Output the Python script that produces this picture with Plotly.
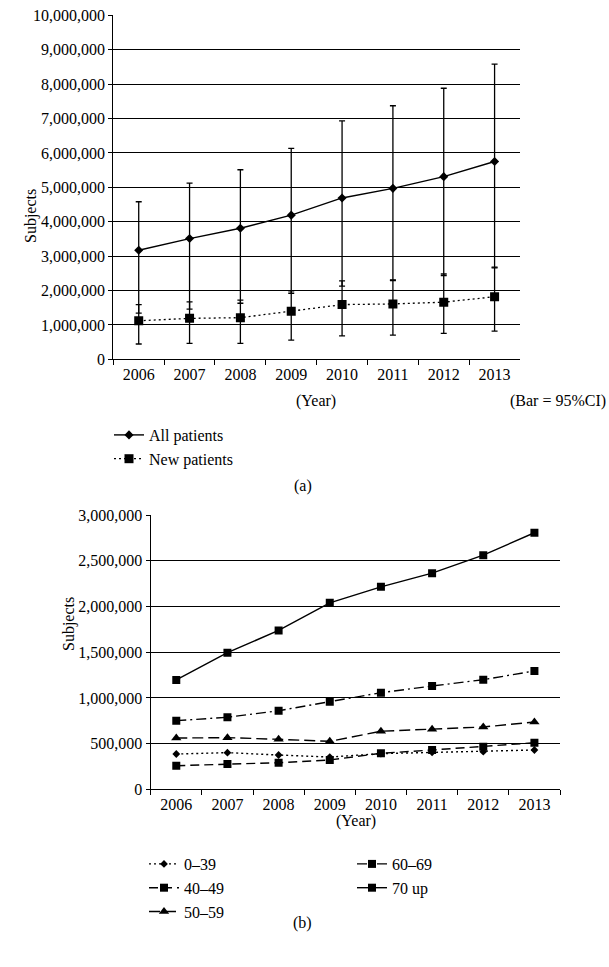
import plotly.graph_objects as go

W, H = 609, 967

years = ['2006', '2007', '2008', '2009', '2010', '2011', '2012', '2013']

# (a) all / new patients with 95% CI
all_patients = [3170000, 3510000, 3810000, 4190000, 4690000, 4970000, 5310000, 5750000]
all_upper = [4580000, 5120000, 5510000, 6130000, 6930000, 7370000, 7880000, 8580000]
all_lower = [1340000, 1460000, 1630000, 1920000, 2130000, 2290000, 2430000, 2660000]
new_patients = [1120000, 1190000, 1210000, 1400000, 1590000, 1610000, 1660000, 1820000]
new_upper = [1590000, 1670000, 1720000, 1990000, 2280000, 2310000, 2480000, 2680000]
new_lower = [445000, 465000, 465000, 560000, 680000, 700000, 755000, 820000]

# (b) by age group
age_0_39 = [386000, 401000, 375000, 353000, 390000, 405000, 412000, 430000]
age_40_49 = [258000, 277000, 291000, 321000, 394000, 430000, 466000, 510000]
age_50_59 = [561000, 565000, 547000, 525000, 635000, 656000, 682000, 736000]
age_60_69 = [751000, 788000, 860000, 959000, 1057000, 1130000, 1199000, 1295000]
age_70_up = [1196000, 1495000, 1738000, 2040000, 2215000, 2365000, 2562000, 2807000]

top_ticks = list(range(0, 10000001, 1000000))
bottom_ticks = list(range(0, 3000001, 500000))

FONT = 'Liberation Serif'


def px(x):
    return x / W


def py(y):
    return 1 - y / H


def diff(a, b):
    return [i - j for i, j in zip(a, b)]


fig = go.Figure()

# top chart
fig.add_trace(go.Scatter(
    x=years, y=all_patients, name='All patients', mode='lines+markers',
    line=dict(color='black', width=1.4),
    marker=dict(symbol='diamond', size=7, color='black'),
    error_y=dict(type='data', symmetric=False, array=diff(all_upper, all_patients),
                 arrayminus=diff(all_patients, all_lower), color='black', thickness=1.3, width=3),
    xaxis='x', yaxis='y', legend='legend'))
fig.add_trace(go.Scatter(
    x=years, y=new_patients, name='New patients', mode='lines+markers',
    line=dict(color='black', width=1.3, dash='2px,3px'),
    marker=dict(symbol='square', size=9, color='black'),
    error_y=dict(type='data', symmetric=False, array=diff(new_upper, new_patients),
                 arrayminus=diff(new_patients, new_lower), color='black', thickness=1.3, width=3),
    xaxis='x', yaxis='y', legend='legend'))

# bottom chart
series = [
    ('0\u201339', age_0_39, '2px,3px', 'diamond', 6, 'legend2'),
    ('40\u201349', age_40_49, '9px,5px', 'square', 8, 'legend2'),
    ('50\u201359', age_50_59, '11px,5px', 'triangle-up', 9, 'legend2'),
    ('60\u201369', age_60_69, '10px,4px,2px,4px', 'square', 8, 'legend3'),
    ('70 up', age_70_up, 'solid', 'square', 8, 'legend3'),
]
for name, vals, dash, sym, size, leg in series:
    fig.add_trace(go.Scatter(
        x=years, y=vals, name=name, mode='lines+markers',
        line=dict(color='black', width=1.4, dash=dash),
        marker=dict(symbol=sym, size=size, color='black'),
        xaxis='x2', yaxis='y2', legend=leg))

xaxis_style = dict(type='category', range=[-0.5, 7.5], showline=True, linecolor='black',
                   linewidth=1.3, ticks='outside', tickson='boundaries', ticklen=5,
                   tickcolor='black', showgrid=False, zeroline=False, automargin=False,
                   tickfont=dict(family=FONT, size=16, color='black'))
yaxis_style = dict(showline=True, linecolor='black', linewidth=1.3, ticks='outside',
                   ticklen=4, tickcolor='black', showgrid=True, gridcolor='black',
                   gridwidth=1.3, zeroline=False, tickformat=',d', automargin=False,
                   tickfont=dict(family=FONT, size=16, color='black'))

legend_style = dict(font=dict(family=FONT, size=16, color='black'), bgcolor='rgba(0,0,0,0)',
                    xanchor='left', yanchor='top', tracegroupgap=0, itemwidth=30)

fig.update_layout(
    width=W, height=H, margin=dict(l=0, r=0, t=0, b=0, pad=0, autoexpand=False),
    paper_bgcolor='white', plot_bgcolor='white',
    font=dict(family=FONT, size=16, color='black'),
    xaxis=dict(domain=[px(113.3), px(520)], anchor='y', **xaxis_style),
    yaxis=dict(domain=[py(359.3), py(15.3)], anchor='x', range=[0, 10000000],
               tickvals=top_ticks, **yaxis_style),
    xaxis2=dict(domain=[px(150.7), px(560)], anchor='y2', **xaxis_style),
    yaxis2=dict(domain=[py(789.3), py(515.1)], anchor='x2', range=[0, 3000000],
                tickvals=bottom_ticks, **yaxis_style),
    legend=dict(x=px(109), y=py(418), **legend_style),
    legend2=dict(x=px(144), y=py(847), **legend_style),
    legend3=dict(x=px(352), y=py(847), **legend_style),
    annotations=[
        dict(text='Subjects', x=px(20), y=py(187), xref='paper', yref='paper',
             textangle=-90, showarrow=False, font=dict(size=16)),
        dict(text='(Year)', x=px(316), y=py(400.7), xref='paper', yref='paper',
             showarrow=False, font=dict(size=16)),
        dict(text='(Bar = 95%CI)', x=px(608), y=py(400.7), xref='paper', yref='paper',
             xanchor='right', showarrow=False, font=dict(size=16)),
        dict(text='(a)', x=px(303), y=py(485.7), xref='paper', yref='paper',
             showarrow=False, font=dict(size=16)),
        dict(text='Subjects', x=px(58), y=py(653), xref='paper', yref='paper',
             textangle=-90, showarrow=False, font=dict(size=16)),
        dict(text='(Year)', x=px(356), y=py(831.7), xref='paper', yref='paper',
             showarrow=False, font=dict(size=16)),
        dict(text='(b)', x=px(302), y=py(934), xref='paper', yref='paper',
             showarrow=False, font=dict(size=16)),
    ],
)

fig.write_html("out.html", config={'displayModeBar': False},
               post_script="document.body.style.margin = '0';")
